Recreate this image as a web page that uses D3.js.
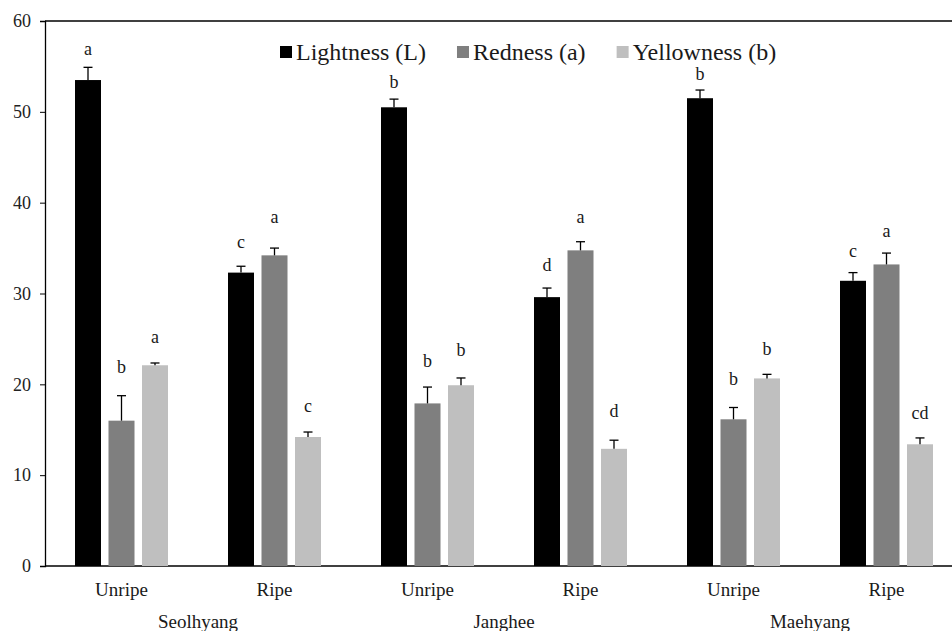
<!DOCTYPE html>
<html>
<head>
<meta charset="utf-8">
<script src="https://cdn.jsdelivr.net/npm/d3@7"></script>
<style>
  body { margin: 0; background: #fff; }
</style>
</head>
<body>
<svg id="chart"></svg>
<script>
const WIDTH = 952
const HEIGHT = 631
const FONT = '"Liberation Serif", "Times New Roman", serif'
const SVG = d3.select('#chart').attr('width', WIDTH).attr('height', HEIGHT)

// data
const cultivars = ['Seolhyang', 'Janghee', 'Maehyang']
const stages = ['Unripe', 'Ripe']
const groups = ['Seolhyang Unripe', 'Seolhyang Ripe', 'Janghee Unripe', 'Janghee Ripe', 'Maehyang Unripe', 'Maehyang Ripe']
const series = ['Lightness (L)', 'Redness (a)', 'Yellowness (b)']
const colors = ['#000000', '#7f7f7f', '#bfbfbf']

const lightness = [53.5, 32.3, 50.5, 29.6, 51.5, 31.4]
const lightnessErr = [1.4, 0.7, 0.9, 1.0, 0.9, 0.9]
const redness = [16.0, 34.2, 17.9, 34.75, 16.15, 33.2]
const rednessErr = [2.75, 0.8, 1.8, 0.95, 1.3, 1.25]
const yellowness = [22.1, 14.2, 19.9, 12.9, 20.65, 13.4]
const yellownessErr = [0.25, 0.55, 0.8, 0.95, 0.45, 0.7]

// significance letters + the height (in chart units) they sit at
const lightnessLetters = ['a', 'c', 'b', 'd', 'b', 'c']
const rednessLetters = ['b', 'a', 'b', 'a', 'b', 'a']
const yellownessLetters = ['a', 'c', 'b', 'd', 'b', 'cd']
const lightnessLetterAt = [56.8, 35.6, 53.2, 33.1, 54.1, 34.6]
const rednessLetterAt = [21.8, 38.4, 22.5, 38.4, 20.5, 36.8]
const yellownessLetterAt = [25.2, 17.5, 23.7, 17.0, 23.8, 16.8]

const yTicks = [0, 10, 20, 30, 40, 50, 60]

const values = [lightness, redness, yellowness]
const errs = [lightnessErr, rednessErr, yellownessErr]
const letters = [lightnessLetters, rednessLetters, yellownessLetters]
const letterAt = [lightnessLetterAt, rednessLetterAt, yellownessLetterAt]

let rows = []
series.forEach((s, si) => {
  groups.forEach((g, gi) => {
    rows.push({ series: s, si: si, group: g, value: values[si][gi], err: errs[si][gi],
      letter: letters[si][gi], letterAt: letterAt[si][gi] })
  })
})

// scales
const PLOT_LEFT = 45, PLOT_TOP = 21, PLOT_BOTTOM = 566
const xScale = d3.scaleBand().domain(groups).range([PLOT_LEFT, PLOT_LEFT + 153 * groups.length])
const xInner = d3.scaleBand().domain(series).range([-50.25, 50.25])
const barW = 26
const yScale = d3.scaleLinear().domain([0, 60]).range([PLOT_BOTTOM, PLOT_TOP])

const bx = d => xScale(d.group) + xScale.bandwidth() / 2 + xInner(d.series) + (xInner.bandwidth() - barW) / 2
const cx = d => bx(d) + barW / 2

// frame (right side runs off the canvas)
SVG.append('line').attr('x1', PLOT_LEFT).attr('x2', WIDTH).attr('y1', PLOT_TOP).attr('y2', PLOT_TOP)
  .attr('stroke', '#000').attr('stroke-width', 1.3)

// y axis
let y_axis = d3.axisLeft(yScale).tickValues(yTicks).tickSize(5).tickPadding(9)
let yg = SVG.append('g').attr('transform', 'translate(' + PLOT_LEFT + ',0)').call(y_axis)
  .attr('font-family', FONT).attr('font-size', 18)
yg.select('.domain').attr('stroke', '#000').attr('stroke-width', 1.3)
yg.selectAll('.tick line').attr('stroke', '#000')
yg.selectAll('.tick text').attr('fill', '#222')

// x axis line
SVG.append('line').attr('x1', PLOT_LEFT).attr('x2', WIDTH).attr('y1', PLOT_BOTTOM).attr('y2', PLOT_BOTTOM)
  .attr('stroke', '#000').attr('stroke-width', 1.3)

// bars
SVG.append('g').selectAll('rect')
  .data(rows).enter().append('rect')
  .attr('x', bx)
  .attr('y', d => yScale(d.value))
  .attr('width', barW)
  .attr('height', d => yScale(0) - yScale(d.value))
  .attr('fill', d => colors[d.si])

// error bars (upper only)
let eb = SVG.append('g').selectAll('g').data(rows).enter().append('g')
eb.append('line')
  .attr('x1', cx).attr('x2', cx)
  .attr('y1', d => yScale(d.value)).attr('y2', d => yScale(d.value + d.err))
  .attr('stroke', '#000').attr('stroke-width', 1.3)
eb.append('line')
  .attr('x1', d => cx(d) - 4.5).attr('x2', d => cx(d) + 4.5)
  .attr('y1', d => yScale(d.value + d.err)).attr('y2', d => yScale(d.value + d.err))
  .attr('stroke', '#000').attr('stroke-width', 1.3)

// letters
SVG.append('g').attr('font-family', FONT).attr('font-size', 18).attr('fill', '#1a1a1a')
  .selectAll('text').data(rows).enter().append('text')
  .attr('x', cx)
  .attr('y', d => yScale(d.letterAt))
  .attr('dy', '0.3em')
  .attr('text-anchor', 'middle')
  .text(d => d.letter)

// stage labels + cultivar labels
SVG.append('g').attr('font-family', FONT).attr('font-size', 19).attr('fill', '#1a1a1a')
  .selectAll('text').data(groups).enter().append('text')
  .attr('x', d => xScale(d) + xScale.bandwidth() / 2)
  .attr('y', 596)
  .attr('text-anchor', 'middle')
  .text((d, i) => stages[i % 2])

SVG.append('g').attr('font-family', FONT).attr('font-size', 19).attr('fill', '#1a1a1a')
  .selectAll('text').data(cultivars).enter().append('text')
  .attr('x', (d, i) => xScale(groups[i * 2]) + xScale.bandwidth())
  .attr('y', 628)
  .attr('text-anchor', 'middle')
  .text(d => d)

// legend
let legend = SVG.append('g').attr('font-family', FONT).attr('font-size', 24).attr('fill', '#1a1a1a')
let lx = 280
series.forEach((s, i) => {
  legend.append('rect').attr('x', lx).attr('y', 46).attr('width', 12).attr('height', 12).attr('fill', colors[i])
  let t = legend.append('text').attr('x', lx + 16).attr('y', 60).text(s)
  lx += 16 + t.node().getComputedTextLength() + 31
})
</script>
</body>
</html>
